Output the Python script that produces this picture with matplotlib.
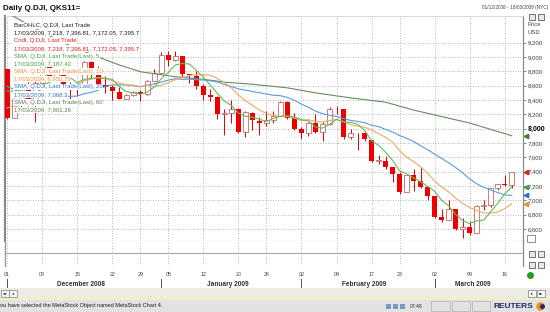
import matplotlib
matplotlib.use("Agg")
import matplotlib.pyplot as plt
from matplotlib.patches import Rectangle
from matplotlib.lines import Line2D
from matplotlib.transforms import blended_transform_factory

plt.rcParams['font.family'] = ['Liberation Sans', 'DejaVu Sans']

# trading days (day of month) Dec 2008 - Mar 2009
dec = [1, 2, 3, 4, 5, 8, 9, 10, 11, 12, 15, 16, 17, 18, 19, 22, 23, 24, 26, 29, 30, 31]
jan = [2, 5, 6, 7, 8, 9, 12, 13, 14, 15, 16, 20, 21, 22, 23, 26, 27, 28, 29, 30]
feb = [2, 3, 4, 5, 6, 9, 10, 11, 12, 13, 17, 18, 19, 20, 23, 24, 25, 26, 27]
mar = [2, 3, 4, 5, 6, 9, 10, 11, 12, 13, 16, 17]
months = ['December 2008', 'January 2009', 'February 2009', 'March 2009']
tick_days = [[1, 8, 15, 22, 29], [5, 12, 20, 26], [2, 9, 17, 23], [2, 9, 16]]

opens = [8829, 8149, 8419, 8591, 8376, 8635, 8934, 8691, 8761, 8565, 8629, 8564, 8924, 8824, 8604, 8579, 8519, 8419, 8468, 8515, 8483, 8668,
         8772, 9027, 8954, 9015, 8769, 8738, 8599, 8474, 8447, 8199, 8212, 8279, 7949, 8225, 8113, 8078, 8117, 8175, 8373, 8150,
         7996, 7937, 8078, 7954, 8062, 8281, 8269, 7887, 7933, 7933, 7845, 7555, 7555, 7461, 7366, 7115, 7349, 7269, 7180,
         7057, 6764, 6727, 6874, 6595, 6625, 6547, 6923, 6932, 7172, 7226, 7218]
highs = [8829, 8428, 8620, 8645, 8660, 8958, 8960, 8830, 8800, 8650, 8635, 8950, 8940, 8870, 8730, 8615, 8580, 8490, 8525, 8540, 8680, 8830,
         9065, 9080, 9088, 9015, 8770, 8800, 8630, 8560, 8450, 8280, 8400, 8290, 8240, 8230, 8170, 8240, 8240, 8380, 8380, 8220,
         8020, 8090, 8200, 8090, 8300, 8320, 8275, 8000, 7940, 7950, 7845, 7630, 7620, 7465, 7400, 7370, 7440, 7460, 7190,
         7058, 6880, 7010, 6875, 6760, 6710, 6930, 7010, 7170, 7230, 7350, 7396.81]
lows = [8142, 8146, 8275, 8320, 8095, 8635, 8660, 8690, 8550, 8373, 8460, 8555, 8710, 8570, 8500, 8395, 8410, 8417, 8450, 8380, 8470, 8660,
        8760, 8870, 8940, 8720, 8640, 8560, 8400, 8380, 8130, 7910, 8080, 7940, 7880, 7980, 7910, 8040, 8080, 8175, 8130, 7980,
        7850, 7900, 7940, 7830, 8050, 8200, 7860, 7850, 7700, 7830, 7530, 7500, 7440, 7250, 7090, 7110, 7130, 7170, 7010,
        6760, 6700, 6720, 6580, 6470, 6520, 6547, 6860, 6900, 7140, 7200, 7172.05]
closes = [8149.09, 8419.09, 8591.69, 8376.24, 8635.42, 8934.18, 8691.33, 8761.42, 8565.09, 8629.68, 8564.53, 8924.14, 8824.34, 8604.99,
          8579.11, 8519.69, 8419.49, 8468.48, 8515.55, 8483.93, 8668.39, 8776.39,
          9034.69, 8952.89, 9015.10, 8769.70, 8742.46, 8599.18, 8473.97, 8448.56, 8200.14, 8212.49, 8281.22, 7949.09, 8228.10, 8122.80,
          8077.56, 8116.03, 8174.73, 8375.45, 8149.01, 8000.86,
          7936.75, 8078.36, 7956.66, 8063.07, 8280.59, 8270.87, 7888.88, 7939.53, 7932.76, 7850.41, 7552.60, 7555.63, 7465.95, 7365.67,
          7114.78, 7350.94, 7270.89, 7182.08, 7062.93,
          6763.29, 6726.02, 6875.84, 6594.44, 6626.94, 6547.05, 6926.49, 6930.40, 7170.06, 7223.98, 7216.97, 7395.70]

sma5 = [8525, 8521, 8543, 8473, 8434, 8591, 8646, 8679, 8717, 8716, 8642, 8689, 8702, 8710, 8699, 8690, 8589, 8518, 8501, 8481,
        8511, 8582, 8696, 8783, 8889, 8910, 8903, 8816, 8720, 8607, 8493, 8387, 8323, 8218, 8174, 8159, 8132, 8099, 8144, 8173,
        8179, 8163, 8127, 8108, 8024, 8007, 8063, 8130, 8092, 8089, 8063, 7977, 7833, 7766, 7672, 7558, 7411, 7371, 7314, 7257,
        7196, 7126, 7001, 6922, 6804, 6717, 6674, 6714, 6725, 6840, 6959, 7093, 7187]
sma10 = [8292, 8307, 8323, 8361, 8470, 8558, 8584, 8611, 8595, 8575, 8617, 8668, 8691, 8714, 8708, 8666, 8639, 8610, 8606, 8590,
         8601, 8586, 8607, 8642, 8685, 8711, 8743, 8756, 8752, 8748, 8702, 8645, 8570, 8469, 8391, 8326, 8260, 8211, 8181, 8174,
         8169, 8148, 8113, 8126, 8099, 8093, 8113, 8129, 8100, 8057, 8035, 8020, 7982, 7929, 7881, 7811, 7694, 7602, 7540, 7465,
         7377, 7269, 7186, 7118, 7031, 6957, 6900, 6858, 6824, 6822, 6838, 6884, 6951]
sma20 = [8591, 8546, 8494, 8456, 8453, 8453, 8444, 8447, 8461, 8451, 8455, 8488, 8507, 8538, 8589, 8612, 8612, 8611, 8601, 8583,
         8609, 8627, 8649, 8678, 8697, 8689, 8691, 8683, 8679, 8669, 8652, 8616, 8589, 8556, 8538, 8519, 8502, 8484, 8467, 8461,
         8436, 8397, 8342, 8298, 8245, 8210, 8187, 8170, 8141, 8116, 8102, 8084, 8048, 8028, 7990, 7952, 7904, 7866, 7820, 7761,
         7706, 7645, 7584, 7524, 7456, 7384, 7297, 7230, 7182, 7144, 7108, 7077, 7068]
sma60_idx = [0, 4, 8, 13, 16, 19, 24, 28, 31, 35, 40, 44, 49, 54, 58, 61, 66, 70, 72]
sma60_val = [9620, 9400, 9200, 9000, 8890, 8795, 8725, 8690, 8650, 8620, 8570, 8500, 8430, 8370, 8260, 8191, 8079, 7960, 7901]

legend_rows = [
    ('BarOHLC, Q.DJI, Last Trade', '#202020'),
    ('17/03/2009, 7,218, 7,396.81, 7,172.05, 7,395.7', '#202020'),
    ('Cndl, Q.DJI, Last Trade', '#e02020'),
    ('17/03/2009, 7,218, 7,396.81, 7,172.05, 7,395.7', '#e02020'),
    ('SMA, Q.DJI, Last Trade(Last), 5', '#40a040'),
    ('17/03/2009, 7,187.42', '#40a040'),
    ('SMA, Q.DJI, Last Trade(Last), 10', '#f09030'),
    ('17/03/2009, 6,950.79', '#f09030'),
    ('SMA, Q.DJI, Last Trade(Last), 20', '#3070d0'),
    ('17/03/2009, 7,068.3', '#3070d0'),
    ('SMA, Q.DJI, Last Trade(Last), 60', '#5a7a50'),
    ('17/03/2009, 7,901.26', '#5a7a50'),
]
last_vals = [7395.7, 7187.42, 7068.3, 6950.79, 7901.26]
last_cols = ['#e02020', '#40a040', '#3070d0', '#f09030', '#4a7a40']
price_ticks = list(range(6600, 9201, 200))

W, H = 550, 312


def fx(x):
    return x / W


def fy(y):
    return 1 - y / H


fig = plt.figure(figsize=(5.5, 3.12), dpi=100)
fig.patch.set_facecolor('white')

n = len(closes)
xs = list(range(n))
tick_pos, tick_lab, month_start, month_mid = [], [], [], []
off = 0
for days, ticks in zip([dec, jan, feb, mar], tick_days):
    for d in ticks:
        tick_pos.append(off + days.index(d))
        tick_lab.append('%02d' % d)
    month_start.append(off)
    month_mid.append(off + (len(days) - 1) / 2)
    off += len(days)

xlim = (-0.29, 73.6)

# ---- main price panel
ax = fig.add_axes([fx(5), fy(241), fx(518), 225 / H])
ax.set_xlim(*xlim)
ax.set_ylim(6432, 9573)
ax.set_xticks(tick_pos)
ax.set_xticklabels([])
ax.tick_params(axis='x', length=0)
ax.yaxis.tick_right()
ax.set_yticks(price_ticks)
ax.set_yticklabels(['{:,}'.format(v) for v in price_ticks])
ax.tick_params(axis='y', direction='out', length=2, width=0.6, colors='#707070',
               labelcolor='#404040', labelsize=4.3, pad=1.5)
for lbl in ax.get_yticklabels():
    if lbl.get_text() == '8,000':
        lbl.set_fontweight('bold')
        lbl.set_fontsize(5)
        lbl.set_color('black')
ax.grid(True, ls=(0, (1, 2)), color='#a0a0a0', lw=0.6)
ax.set_axisbelow(True)
ax.spines['left'].set_color('#8a8a8a')
ax.spines['left'].set_linewidth(1.6)
ax.spines['right'].set_color('#8a8a8a')
ax.spines['right'].set_linewidth(0.9)
ax.spines['top'].set_color('#d0d0d0')
ax.spines['top'].set_linewidth(0.6)
ax.spines['bottom'].set_color('#9a9a9a')
ax.spines['bottom'].set_linewidth(0.8)

# candles
ax.vlines(xs, lows, highs, color='#e00000', lw=0.7, zorder=2)
up_x = [i for i in xs if closes[i] >= opens[i]]
dn_x = [i for i in xs if closes[i] < opens[i]]
ax.bar(up_x, [max(closes[i] - opens[i], 8) for i in up_x], bottom=[opens[i] for i in up_x],
       width=0.72, facecolor='white', edgecolor='#c06a6a', lw=0.6, zorder=3)
ax.bar(dn_x, [opens[i] - closes[i] for i in dn_x], bottom=[closes[i] for i in dn_x],
       width=0.72, color='#ee0000', lw=0, zorder=3)

# moving averages
ax.plot(sma60_idx, sma60_val, color='#6a8a60', lw=0.8, zorder=4)
ax.plot(xs, sma20, color='#5a9ae0', lw=0.8, zorder=4)
ax.plot(xs, sma10, color='#f0a860', lw=0.8, zorder=4)
ax.plot(xs, sma5, color='#66bb55', lw=0.8, zorder=4)

# value markers on the price axis
ytr = ax.get_yaxis_transform()
for v, c in zip(last_vals, last_cols):
    ax.plot([1.006], [v], marker='<', color=c, markersize=3.2, transform=ytr, clip_on=False, zorder=5)

# ---- lower strip
ax2 = fig.add_axes([fx(5), fy(266), fx(518), 25 / H])
ax2.set_xlim(*xlim)
ax2.set_ylim(0, 1)
ax2.set_yticks([])
ax2.set_xticks(tick_pos)
ax2.set_xticklabels(tick_lab)
ax2.tick_params(axis='x', length=0, pad=4, labelsize=3.8, labelcolor='#404040')
ax2.grid(True, axis='x', ls=(0, (1, 2)), color='#a0a0a0', lw=0.6)
ax2.axhline(0.52, color='#a8a8a8', lw=0.8)
ax2.spines['top'].set_visible(False)
ax2.spines['bottom'].set_visible(False)
ax2.spines['left'].set_color('#9a9a9a')
ax2.spines['left'].set_linewidth(1.0)
ax2.spines['right'].set_color('#8a8a8a')
ax2.spines['right'].set_linewidth(0.9)

blend = blended_transform_factory(ax2.transData, fig.transFigure)
for m, s, name in zip(month_mid, month_start, months):
    ax2.text(m, fy(284), name, transform=blend, ha='center', va='center',
             fontsize=4.7, fontweight='bold', color='#303030')
    ax2.plot([s, s], [fy(279), fy(290)], transform=blend, color='#505050', lw=0.7, clip_on=False)

# ---- texts
fig.text(fx(3), fy(8), 'Daily Q.DJI, QKS11=', fontsize=5.8, fontweight='bold', va='center', color='#101010')
fig.text(fx(548), fy(8), '01/12/2008 - 18/03/2009 (NYC)', fontsize=3.4, ha='right', va='center', color='#404040')
fig.text(fx(527), fy(25), 'Price', fontsize=4.2, va='center', color='#404040')
fig.text(fx(527), fy(33), 'USD', fontsize=4.2, va='center', color='#404040')

for k, (txt, col) in enumerate(legend_rows):
    fig.text(fx(14), fy(25.3 + 7.7 * k), txt, fontsize=4.3, color=col, va='center',
             bbox=dict(facecolor='white', edgecolor='none', pad=0.5))

# small window icons
for yy in [17, 254, 265]:
    for xx in [529, 538]:
        fig.add_artist(Rectangle((fx(xx), fy(yy + 3)), fx(6), 6 / H, transform=fig.transFigure,
                                 facecolor='#e8e8e8', edgecolor='#404040', lw=0.5))
fig.add_artist(Rectangle((fx(527), fy(242)), fx(8), 7 / H, transform=fig.transFigure,
                         facecolor='white', edgecolor='#606060', lw=0.5))
fig.add_artist(Line2D([fx(530)], [fy(275)], marker='o', color='#22a022', markersize=4,
                      transform=fig.transFigure))

# scroll band and status bar
fig.add_artist(Rectangle((0, fy(298)), 1, 10 / H, transform=fig.transFigure,
                         facecolor='#ecece4', edgecolor='none', zorder=0.5))
fig.add_artist(Rectangle((0, fy(300)), 1, 2 / H, transform=fig.transFigure,
                         facecolor='#f3efc2', edgecolor='none', zorder=0.5))
fig.add_artist(Rectangle((0, 0), 1, 12 / H, transform=fig.transFigure,
                         facecolor='#e2e2e2', edgecolor='none', zorder=0.5))
for xx, t in [(1, '◂◂'), (9, '◂'), (528, '▸'), (537, '▸▸')]:
    fig.add_artist(Rectangle((fx(xx), fy(297)), fx(8), 7 / H, transform=fig.transFigure,
                             facecolor='#f8f8f8', edgecolor='#808080', lw=0.5))
    fig.text(fx(xx + 4), fy(293.5), t, fontsize=3, ha='center', va='center',
             family='DejaVu Sans', color='#202020')

fig.text(fx(0), fy(306), 'ou have selected the MetaStock Object named MetaStock Chart 4.',
         fontsize=4, va='center', color='#202020')
fig.text(fx(410), fy(306), '07:48', fontsize=3.6, va='center', color='#303030')
for xx in [386, 393, 400]:
    fig.add_artist(Rectangle((fx(xx), fy(309)), fx(5), 5 / H, transform=fig.transFigure,
                             facecolor='#7a9ac0', edgecolor='none'))
for xx, w in [(431, 19), (452, 18), (472, 18)]:
    fig.add_artist(Rectangle((fx(xx), fy(311)), fx(w), 10 / H, transform=fig.transFigure,
                             facecolor='none', edgecolor='#b0b0b0', lw=0.5))
fig.text(fx(494), fy(306), 'REUTERS', fontsize=6, fontweight='bold', va='center', color='#1c2c6e')
fig.add_artist(Line2D([fx(540)], [fy(306)], marker='o', color='#f08a20', markersize=5,
                      transform=fig.transFigure))
fig.add_artist(Line2D([fx(541.5)], [fy(306)], marker='o', color='#1c2c6e', markersize=2.5,
                      transform=fig.transFigure))

fig.savefig('out.png', dpi=100)
